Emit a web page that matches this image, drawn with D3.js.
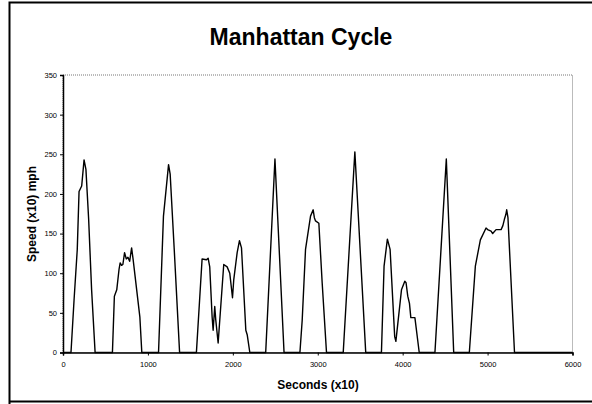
<!DOCTYPE html>
<html>
<head>
<meta charset="utf-8">
<script src="https://cdn.jsdelivr.net/npm/d3@7"></script>
<style>
  body { margin: 0; background: #fff; }
  svg { display: block; font-family: "Liberation Sans", Arial, sans-serif; }
</style>
</head>
<body>
<svg id="chart" width="592" height="404"></svg>
<script>
// seconds (x10) and speed (x10 mph)
var seconds = [0, 94, 130, 168, 189, 220, 248, 270, 302, 337, 378,
  582, 605, 633, 660, 673, 690, 705, 725, 745, 765, 785, 808, 825, 905, 928,
  1125, 1183, 1243, 1262, 1310, 1373,
  1571, 1638, 1689, 1709, 1728, 1756, 1768, 1787, 1799, 1827, 1893, 1933, 1964, 1996, 2011, 2051, 2078, 2102, 2153, 2170, 2200,
  2387, 2496, 2603,
  2790, 2817, 2856, 2915, 2946, 2960, 2974, 3013, 3052, 3103,
  3300, 3437, 3565,
  3750, 3781, 3820, 3852, 3906, 3920, 3986, 4025, 4040, 4060, 4080, 4096, 4144, 4195,
  4380, 4514, 4601,
  4785, 4856, 4915, 4982, 5000, 5041, 5060, 5100, 5159, 5180, 5198, 5215, 5225, 5240, 5317, 6000];
var speed = [0, 0, 66, 130, 203, 210, 243, 231, 168, 79, 0,
  0, 71, 79, 105, 113, 110, 111, 126, 118, 120, 115, 132, 118, 45, 0,
  0, 172, 237, 225, 130, 0,
  0, 118, 117, 119, 108, 45, 28, 58, 41, 12, 111, 108, 100, 69, 92, 126, 141, 132, 28, 22, 0,
  0, 244, 0,
  0, 41, 130, 172, 180, 170, 166, 163, 88, 0,
  0, 253, 0,
  0, 109, 143, 130, 20, 14, 79, 90, 88, 71, 62, 44, 44, 0,
  0, 244, 0,
  0, 109, 142, 157, 155, 153, 150, 155, 155, 160, 168, 174, 180, 170, 0, 0];

var xTicks = [0, 1000, 2000, 3000, 4000, 5000, 6000];
var yTicks = [0, 50, 100, 150, 200, 250, 300, 350];

var svg = d3.select("#chart");

var plotLeft = 63, plotRight = 572.5, plotTop = 75, plotBottom = 352.5;

var x = d3.scaleLinear().domain([0, 6000]).range([plotLeft, plotRight]);
var y = d3.scaleLinear().domain([0, 350]).range([plotBottom, plotTop]);

// outer frame
svg.append("path")
  .attr("d", "M9.5,404 L9.5,2.5 L600,2.5 M9.5,401.5 L600,401.5")
  .attr("fill", "none")
  .attr("stroke", "#000")
  .attr("stroke-width", 2);

// plot area dotted border
svg.append("rect")
  .attr("x", plotLeft).attr("y", plotTop)
  .attr("width", plotRight - plotLeft).attr("height", plotBottom - plotTop)
  .attr("fill", "none")
  .attr("stroke", "#777")
  .attr("stroke-width", 1)
  .attr("stroke-dasharray", "1,1");

svg.append("text")
  .attr("x", 301).attr("y", 45)
  .attr("text-anchor", "middle")
  .attr("font-size", 23)
  .attr("font-weight", "bold")
  .text("Manhattan Cycle");

var xAxis = d3.axisBottom(x).tickValues(xTicks).tickSize(3).tickFormat(d3.format("d"));
var yAxis = d3.axisLeft(y).tickValues(yTicks).tickSize(3);

var gx = svg.append("g")
  .attr("transform", "translate(0," + plotBottom + ")")
  .call(xAxis);
gx.select(".domain").attr("stroke-width", 1.5);
gx.selectAll("text").attr("font-size", 7.5).attr("font-family", "Liberation Sans, Arial").attr("dy", "1.1em");

var gy = svg.append("g")
  .attr("transform", "translate(" + plotLeft + ",0)")
  .call(yAxis);
gy.select(".domain").attr("stroke-width", 1.5);
gy.selectAll("text").attr("font-size", 7.5).attr("font-family", "Liberation Sans, Arial");

var line = d3.line()
  .x(function(d, i) { return x(seconds[i]); })
  .y(function(d) { return y(d); });

svg.append("path")
  .datum(speed)
  .attr("d", line)
  .attr("fill", "none")
  .attr("stroke", "#000")
  .attr("stroke-width", 1.4)
  .attr("stroke-linejoin", "round");

svg.append("text")
  .attr("x", 318).attr("y", 389)
  .attr("text-anchor", "middle")
  .attr("font-size", 12)
  .attr("font-weight", "bold")
  .text("Seconds (x10)");

svg.append("text")
  .attr("transform", "translate(36,214) rotate(-90)")
  .attr("text-anchor", "middle")
  .attr("font-size", 12)
  .attr("font-weight", "bold")
  .text("Speed (x10) mph");
</script>
</body>
</html>
